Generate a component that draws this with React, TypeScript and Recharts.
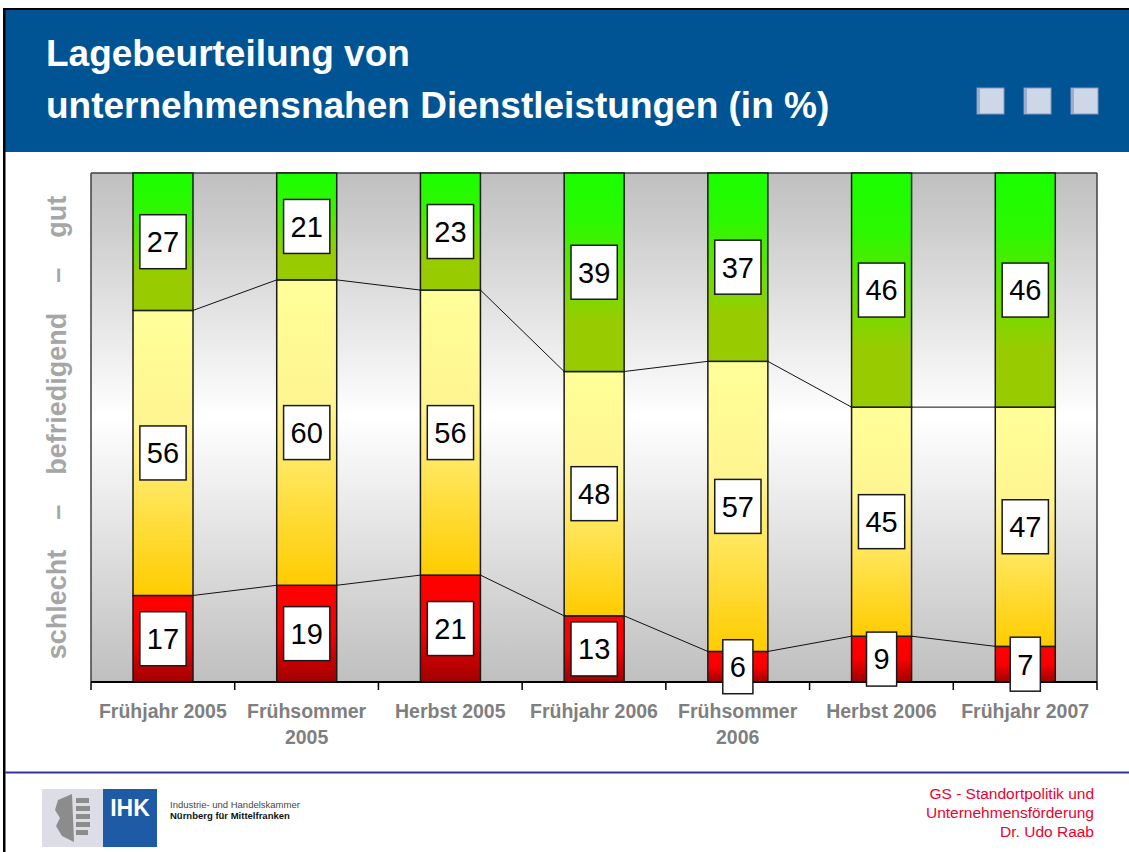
import { BarChart, Bar, XAxis, YAxis, CartesianGrid, LabelList } from 'recharts';

// Werte (Angaben in %)
const categories = [
  'Frühjahr 2005',
  'Frühsommer 2005',
  'Herbst 2005',
  'Frühjahr 2006',
  'Frühsommer 2006',
  'Herbst 2006',
  'Frühjahr 2007',
];
const schlecht = [17, 19, 21, 13, 6, 9, 7];
const befriedigend = [56, 60, 56, 48, 57, 45, 47];
const gut = [27, 21, 23, 39, 37, 46, 46];

const yTitle =
  'schlecht\u00A0\u00A0\u00A0\u00A0–\u00A0\u00A0\u00A0\u00A0befriedigend\u00A0\u00A0\u00A0\u00A0–\u00A0\u00A0\u00A0\u00A0gut';

const data = categories.map((name, i) => ({
  name,
  schlecht: schlecht[i],
  befriedigend: befriedigend[i],
  gut: gut[i],
}));

const FONT = '"Liberation Sans", Arial, Helvetica, sans-serif';
const CHART_W = 1129;
const CHART_H = 610;
const MARGIN = { top: 13, right: 32, left: 0, bottom: 0 };
const Y_AXIS_W = 91;
const BAND = (CHART_W - MARGIN.left - MARGIN.right - Y_AXIS_W) / categories.length;

type Key = 'schlecht' | 'befriedigend' | 'gut';

// Balken mit Verbindungslinie zum nächsten Balken
function makeShape(fill: string, key: Key, lower: Key[], withLine: boolean) {
  return (props: any) => {
    const { x, y, width, height, payload } = props;
    const idx = categories.indexOf(payload.name);
    const next = data[idx + 1];
    let line = null;
    if (withLine && next && height > 0) {
      const unit = height / payload[key];
      const bottom = y + height + lower.reduce((s, k) => s + payload[k], 0) * unit;
      const cum = [...lower, key].reduce((s, k) => s + next[k], 0);
      line = (
        <line x1={x + width} y1={y} x2={x + BAND} y2={bottom - cum * unit} stroke="#111" strokeWidth={1} />
      );
    }
    return (
      <g>
        <rect x={x} y={y} width={width} height={height} fill={fill} stroke="#1a1a1a" strokeWidth={1.5} />
        {line}
      </g>
    );
  };
}

const redShape = makeShape('url(#gRed)', 'schlecht', [], true);
const yellowShape = makeShape('url(#gYellow)', 'befriedigend', ['schlecht'], true);
const greenShape = makeShape('url(#gGreen)', 'gut', ['schlecht', 'befriedigend'], false);

const renderBoxLabel = (props: any) => {
  const vb = props.viewBox && props.viewBox.width != null ? props.viewBox : props;
  const { x, y, width, height } = vb;
  const text = String(props.value);
  const fs = 29;
  const w = text.length * fs * 0.556 + 14;
  const h = 54;
  const cx = x + width / 2;
  const cy = y + height / 2;
  return (
    <g>
      <rect x={cx - w / 2} y={cy - h / 2} width={w} height={h} fill="#fff" stroke="#1a1a1a" strokeWidth={1.5} />
      <text x={cx} y={cy + fs * 0.358} textAnchor="middle" fontSize={fs} fontFamily={FONT} fill="#000">
        {text}
      </text>
    </g>
  );
};

// Kategoriebeschriftung plus Teilstriche an den Kategoriegrenzen
const CategoryTick = (props: any) => {
  const { x, y, payload, index } = props;
  const label: string = payload.value;
  const lines = label.length > 14 ? label.split(' ') : [label];
  const last = index === categories.length - 1;
  return (
    <g>
      <line x1={x - BAND / 2} y1={y} x2={x - BAND / 2} y2={y + 8} stroke="#000" strokeWidth={1.5} />
      {last && <line x1={x + BAND / 2} y1={y} x2={x + BAND / 2} y2={y + 8} stroke="#000" strokeWidth={1.5} />}
      <text x={x} y={y + 36} textAnchor="middle" fontFamily={FONT} fontWeight="bold" fontSize={19.5} fill="#7f7f7f">
        {lines.map((l, i) => (
          <tspan key={i} x={x} dy={i === 0 ? 0 : 26}>
            {l}
          </tspan>
        ))}
      </text>
    </g>
  );
};

const YTitle = (props: any) => {
  const vb = props.viewBox || { x: 0, y: MARGIN.top, width: Y_AXIS_W, height: 509 };
  const tx = vb.x + 66;
  const ty = vb.y + vb.height / 2;
  return (
    <text
      x={tx}
      y={ty}
      transform={`rotate(-90 ${tx} ${ty})`}
      textAnchor="middle"
      fontFamily={FONT}
      fontWeight="bold"
      fontSize={27}
      fill="#a6a6a6"
    >
      {yTitle}
    </text>
  );
};

function Gradients() {
  return (
    <svg width={0} height={0} style={{ position: 'absolute' }}>
      <defs>
        <linearGradient id="gRed" x1="0" y1="0" x2="0" y2="1">
          <stop offset="0%" stopColor="#ff0000" />
          <stop offset="50%" stopColor="#f80000" />
          <stop offset="100%" stopColor="#a00000" />
        </linearGradient>
        <linearGradient id="gYellow" x1="0" y1="0" x2="0" y2="1">
          <stop offset="0%" stopColor="#ffff99" />
          <stop offset="40%" stopColor="#fff590" />
          <stop offset="100%" stopColor="#ffcc00" />
        </linearGradient>
        <linearGradient id="gGreen" x1="0" y1="0" x2="0" y2="1">
          <stop offset="0%" stopColor="#1aff00" />
          <stop offset="25%" stopColor="#2cf800" />
          <stop offset="75%" stopColor="#99cc00" />
          <stop offset="100%" stopColor="#99cc00" />
        </linearGradient>
        <linearGradient id="gPlot" x1="0" y1="0" x2="0" y2="1">
          <stop offset="0%" stopColor="#bfbfbf" />
          <stop offset="48%" stopColor="#ffffff" />
          <stop offset="100%" stopColor="#bfbfbf" />
        </linearGradient>
      </defs>
    </svg>
  );
}

function Slide() {
  return (
    <svg width={1129} height={852} style={{ position: 'absolute', left: 0, top: 0 }}>
      <rect x={0} y={0} width={1129} height={852} fill="#fff" />
      {/* Kopfzeile */}
      <rect x={4} y={10} width={1125} height={142} fill="#005494" />
      <rect x={3} y={8} width={1126} height={2} fill="#000" />
      <rect x={3} y={8} width={2.5} height={844} fill="#000" />
      <text x={46} y={66} fontFamily={FONT} fontWeight="bold" fontSize={37} fill="#fff">
        Lagebeurteilung von
      </text>
      <text x={46} y={118} fontFamily={FONT} fontWeight="bold" fontSize={37} fill="#fff">
        unternehmensnahen Dienstleistungen (in %)
      </text>
      {[977, 1024, 1071].map((sx) => (
        <g key={sx}>
          <rect x={sx} y={88} width={27} height={26} fill="#cdd7e8" stroke="#8696bb" strokeWidth={1} />
          <rect x={sx} y={88} width={3} height={26} fill="#9eaccb" />
        </g>
      ))}
      {/* Fußzeile */}
      <rect x={5} y={771.5} width={1124} height={2} fill="#33339a" />
      <rect x={42} y={789} width={61} height={58} fill="#dcdde6" />
      <g fill="#8c8c8c">
        <path d="M58 800 L72 794 L74 842 L62 836 L56 826 L60 818 L55 810 Z" />
        <rect x={76} y={798} width={13} height={5} />
        <rect x={76} y={806} width={14} height={5} />
        <rect x={76} y={814} width={14} height={5} />
        <rect x={76} y={822} width={14} height={5} />
        <rect x={76} y={830} width={12} height={5} />
      </g>
      <rect x={103} y={789} width={54} height={58} fill="#1f5aa6" />
      <text x={130} y={816} textAnchor="middle" fontFamily={FONT} fontWeight="bold" fontSize={23} fill="#fff">
        IHK
      </text>
      <text x={170} y={808} fontFamily={FONT} fontSize={9.5} fill="#444">
        Industrie- und Handelskammer
      </text>
      <text x={170} y={819} fontFamily={FONT} fontWeight="bold" fontSize={9.5} fill="#111">
        Nürnberg für Mittelfranken
      </text>
      <g fontFamily={FONT} fontSize={15.5} fill="#f0002d" textAnchor="end">
        <text x={1094} y={799}>GS - Standortpolitik und</text>
        <text x={1094} y={818}>Unternehmensförderung</text>
        <text x={1094} y={837}>Dr. Udo Raab</text>
      </g>
    </svg>
  );
}

export default function App() {
  return (
    <div
      style={{
        position: 'absolute',
        left: 0,
        top: 0,
        width: 1129,
        height: 852,
        overflow: 'hidden',
        background: '#fff',
        fontFamily: FONT,
      }}
    >
      <Gradients />
      <Slide />
      <div style={{ position: 'absolute', left: 0, top: 160 }}>
        <BarChart width={CHART_W} height={CHART_H} data={data} margin={MARGIN} barSize={60}>
          <CartesianGrid
            fill="url(#gPlot)"
            stroke="#404040"
            strokeWidth={1.5}
            horizontalCoordinatesGenerator={({ offset }: any) => [offset.top]}
            verticalCoordinatesGenerator={({ offset }: any) => [offset.left, offset.left + offset.width]}
          />
          <XAxis
            dataKey="name"
            height={88}
            axisLine={{ stroke: '#000', strokeWidth: 2 }}
            tickLine={false}
            tickSize={0}
            tickMargin={0}
            interval={0}
            tick={<CategoryTick />}
          />
          <YAxis
            domain={[0, 100]}
            width={Y_AXIS_W}
            tick={false}
            axisLine={false}
            tickLine={false}
            label={<YTitle />}
          />
          <Bar dataKey="schlecht" stackId="s" isAnimationActive={false} shape={redShape}>
            <LabelList dataKey="schlecht" content={renderBoxLabel} />
          </Bar>
          <Bar dataKey="befriedigend" stackId="s" isAnimationActive={false} shape={yellowShape}>
            <LabelList dataKey="befriedigend" content={renderBoxLabel} />
          </Bar>
          <Bar dataKey="gut" stackId="s" isAnimationActive={false} shape={greenShape}>
            <LabelList dataKey="gut" content={renderBoxLabel} />
          </Bar>
        </BarChart>
      </div>
    </div>
  );
}
